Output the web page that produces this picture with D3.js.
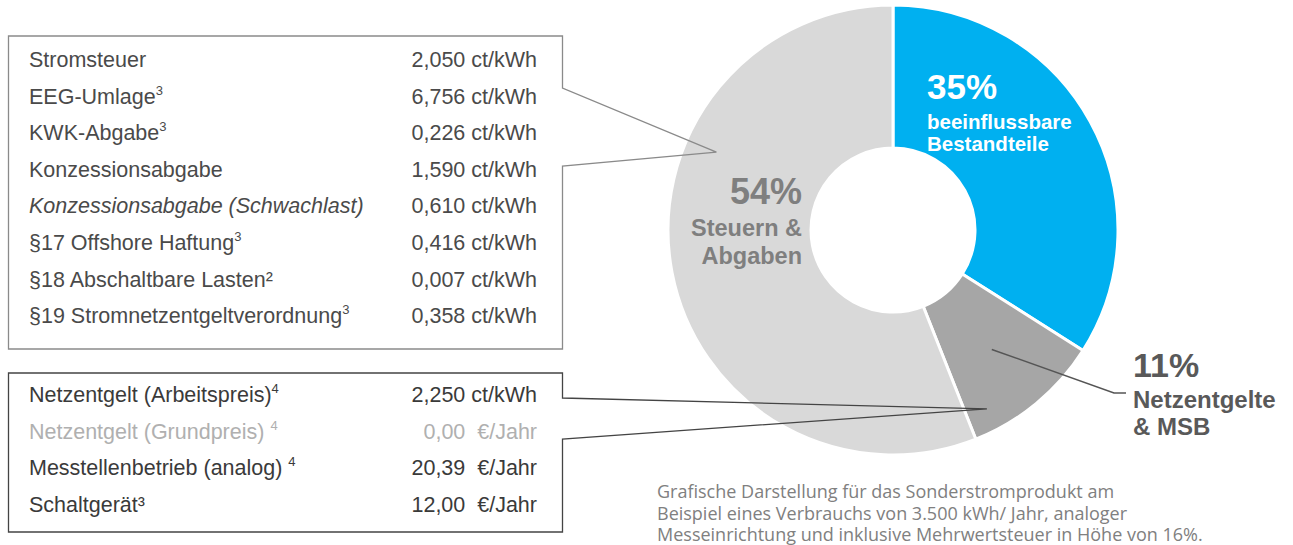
<!DOCTYPE html>
<html><head><meta charset="utf-8">
<script src="https://cdn.jsdelivr.net/npm/d3@7"></script>
<style>body{margin:0;background:#fff}svg{display:block}text{white-space:pre}</style>
</head><body><svg id="c" width="1293" height="545"></svg>
<script>
// ---- data ----
const sliceNames = ["beeinflussbare Bestandteile", "Netzentgelte & MSB", "Steuern & Abgaben"];
const sliceValues = [34, 10, 56];
const slicePercentLabels = ["35%", "11%", "54%"];
const sliceTextLines = [["beeinflussbare", "Bestandteile"], ["Netzentgelte", "& MSB"], ["Steuern &", "Abgaben"]];

const taxNames = ["Stromsteuer", "EEG-Umlage", "KWK-Abgabe", "Konzessionsabgabe",
  "Konzessionsabgabe (Schwachlast)", "§17 Offshore Haftung", "§18 Abschaltbare Lasten²",
  "§19 Stromnetzentgeltverordnung"];
const taxSups = ["", "3", "3", "", "", "3", "", "3"];
const taxValues = ["2,050 ct/kWh", "6,756 ct/kWh", "0,226 ct/kWh", "1,590 ct/kWh",
  "0,610 ct/kWh", "0,416 ct/kWh", "0,007 ct/kWh", "0,358 ct/kWh"];

const netNames = ["Netzentgelt (Arbeitspreis)", "Netzentgelt (Grundpreis) ", "Messtellenbetrieb (analog) ", "Schaltgerät³"];
const netSups = ["4", "4", "4", ""];
const netValues = ["2,250 ct/kWh", "0,00  €/Jahr", "20,39  €/Jahr", "12,00  €/Jahr"];

const footnoteLines = ["Grafische Darstellung für das Sonderstromprodukt am",
  "Beispiel eines Verbrauchs von 3.500 kWh/ Jahr, analoger",
  "Messeinrichtung und inklusive Mehrwertsteuer in Höhe von 16%."];

// ---- styles / layout ----
const sliceColors = ["#00b0f0", "#a6a6a6", "#d9d9d9"];
const cx = 893, cy = 230, rOuter = 225, rInner = 82;
const svg = d3.select("#c");
const font = "Liberation Sans, Arial, sans-serif";

// ---- donut ----
const pie = d3.pie().sort(null).value(d => d)(sliceValues);
const arc = d3.arc().innerRadius(rInner).outerRadius(rOuter);
const g = svg.append("g").attr("transform", `translate(${cx},${cy})`);
g.selectAll("path").data(pie).join("path")
  .attr("d", arc).attr("fill", (d, i) => sliceColors[i])
  .attr("stroke", "#fff").attr("stroke-width", 3).attr("stroke-linejoin", "round");

function polar(angleDeg, r) {
  const a = angleDeg * Math.PI / 180;
  return [cx + r * Math.sin(a), cy - r * Math.cos(a)];
}
const midDeg = d => ((d.startAngle + d.endAngle) / 2) * 180 / Math.PI;

// ---- boxes ----
const boxX = 8.5, boxR = 562.5;
const topPt = polar(293.8, 193);
svg.append("path")
  .attr("d", d3.line()([[boxX, 36], [boxR, 36], [boxR, 88], topPt, [boxR, 166], [boxR, 349], [boxX, 349]]) + "Z")
  .attr("fill", "none").attr("stroke", "#8a8a8a").attr("stroke-width", 1.3);

const botPt = polar(152.3, 202);
svg.append("path")
  .attr("d", d3.line()([[boxX, 373], [boxR, 373], [boxR, 398], botPt, [boxR, 439], [boxR, 532], [boxX, 532]]) + "Z")
  .attr("fill", "none").attr("stroke", "#444").attr("stroke-width", 1.3);

// ---- 11% leader ----
const lp = polar(midDeg(pie[1]), 155);
svg.append("path")
  .attr("d", d3.line()([lp, [1114, 393], [1126, 393]]))
  .attr("fill", "none").attr("stroke", "#555").attr("stroke-width", 1.5);

// ---- table rows ----
function rows(names, sups, values, y0, y1, colorFn, styleFn) {
  const y = d3.scaleLinear().domain([0, names.length - 1]).range([y0, y1]);
  names.forEach((n, i) => {
    const t = svg.append("text").attr("x", 29).attr("y", y(i))
      .attr("font-family", font).attr("font-size", 21.5).attr("fill", colorFn(i))
      .attr("font-style", styleFn(i));
    t.append("tspan").text(n);
    if (sups[i]) t.append("tspan").attr("dy", -9).attr("font-size", 13).text(sups[i]);
    svg.append("text").attr("x", 537).attr("y", y(i)).attr("text-anchor", "end")
      .attr("font-family", font).attr("font-size", 21.5).attr("fill", colorFn(i))
      .text(values[i]);
  });
}
rows(taxNames, taxSups, taxValues, 67, 323.2, () => "#4a4a4a", i => i === 4 ? "italic" : "normal");
rows(netNames, netSups, netValues, 402, 512, i => i === 1 ? "#b0b0b0" : "#3a3a3a", () => "normal");

// ---- slice labels ----
function label(x, y, anchor, pct, lines, color, pctSize, lineSize, y1, dy) {
  svg.append("text").attr("x", x).attr("y", y).attr("text-anchor", anchor)
    .attr("font-family", font).attr("font-weight", "bold").attr("font-size", pctSize)
    .attr("fill", color).text(pct);
  lines.forEach((l, i) => svg.append("text").attr("x", x).attr("y", y1 + i * dy)
    .attr("text-anchor", anchor).attr("font-family", font).attr("font-weight", "bold")
    .attr("font-size", lineSize).attr("fill", color).text(l));
}
label(927, 99, "start", slicePercentLabels[0], sliceTextLines[0], "#ffffff", 35, 20.5, 129, 22);
label(1133, 377, "start", slicePercentLabels[1], sliceTextLines[1], "#595959", 34, 24, 408, 27);
label(802, 204, "end", slicePercentLabels[2], sliceTextLines[2], "#7f7f7f", 36, 23.5, 236, 28);

// ---- footnote ----
footnoteLines.forEach((l, i) => svg.append("text").attr("x", 657).attr("y", 498 + i * 21.5)
  .attr("font-family", "'Open Sans', sans-serif").attr("font-size", 18).attr("fill", "#808080").text(l));
</script></body></html>
